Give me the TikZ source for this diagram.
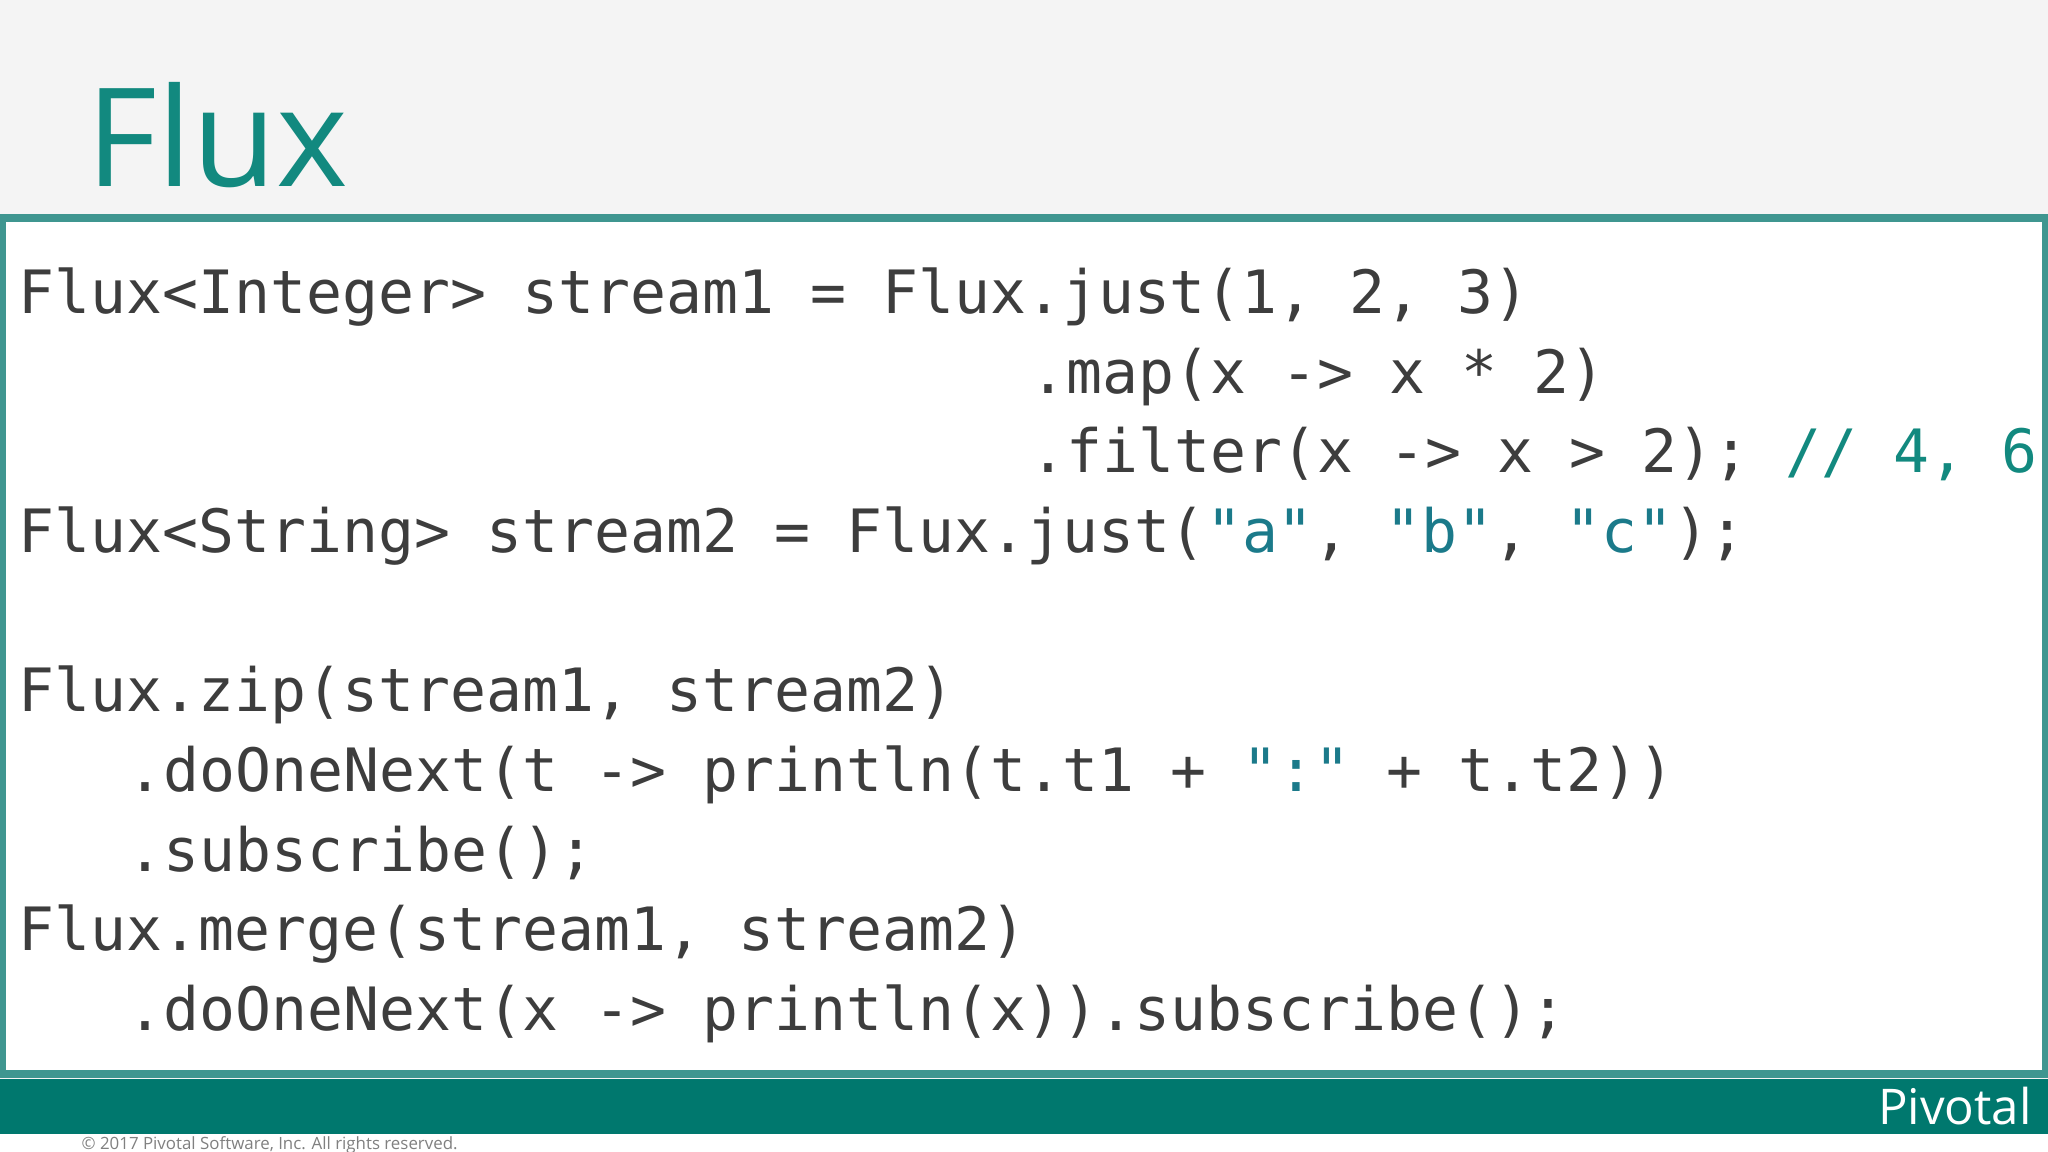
\documentclass[tikz,border=0pt]{standalone}
\usepackage{fontspec}
\setmainfont{Open Sans}
\newfontfamily\code{DejaVu Sans Mono}
\definecolor{bg}{HTML}{F4F4F4}
\definecolor{teal1}{HTML}{12897F}
\definecolor{border}{HTML}{3F9690}
\definecolor{bar}{HTML}{00786E}
\definecolor{txt}{HTML}{3D3D3D}
\definecolor{str}{HTML}{1B7A8A}
\begin{document}
\begin{tikzpicture}[x=0.013061cm,y=-0.013061cm,
  cl/.style={anchor=base west,inner sep=0,text=txt,font=\code\fontsize{17}{20}\selectfont}]
\useasboundingbox (0,0) rectangle (1568,882);
\fill[bg] (0,0) rectangle (1568,882);
\fill[white] (0,868) rectangle (1568,882);
\draw[border,line width=2.2pt,fill=white] (2,167) rectangle (1566,822);
\fill[bar] (0,826) rectangle (1568,868);
\node[anchor=base west,inner sep=0,text=teal1,font=\fontsize{39}{42}\selectfont] (title) at (66,143) {Flux};
\def\cw{27.65}
\node[cl] (l1) at (14,240) {Flux<Integer> stream1 = Flux.just(1, 2, 3)};
\node[cl] (l2) at (14+28*\cw,301) {.map(x -> x * 2)};
\node[cl] (l3) at (14+28*\cw,362) {.filter(x -> x > 2); \textcolor{teal1}{// 4, 6}};
\node[cl] (l4) at (14,423) {Flux<String> stream2 = Flux.just(\textcolor{str}{"a"}, \textcolor{str}{"b"}, \textcolor{str}{"c"});};
\node[cl] (l6) at (14,545) {Flux.zip(stream1, stream2)};
\node[cl] (l7) at (14+3*\cw,606) {.doOneNext(t -> println(t.t1 + \textcolor{str}{":"} + t.t2))};
\node[cl] (l8) at (14+3*\cw,667) {.subscribe();};
\node[cl] (l9) at (14,728) {Flux.merge(stream1, stream2)};
\node[cl] (l10) at (14+3*\cw,789) {.doOneNext(x -> println(x)).subscribe();};
\node[anchor=base east,inner sep=0,text=white,font=\fontsize{14}{16}\selectfont] (logo) at (1556,861) {Pivotal};
\node[anchor=base west,inner sep=0,text=gray,font=\fontsize{4.8}{6}\selectfont] (copy) at (62,880) {© 2017 Pivotal Software, Inc. All rights reserved.};
\end{tikzpicture}
\end{document}
